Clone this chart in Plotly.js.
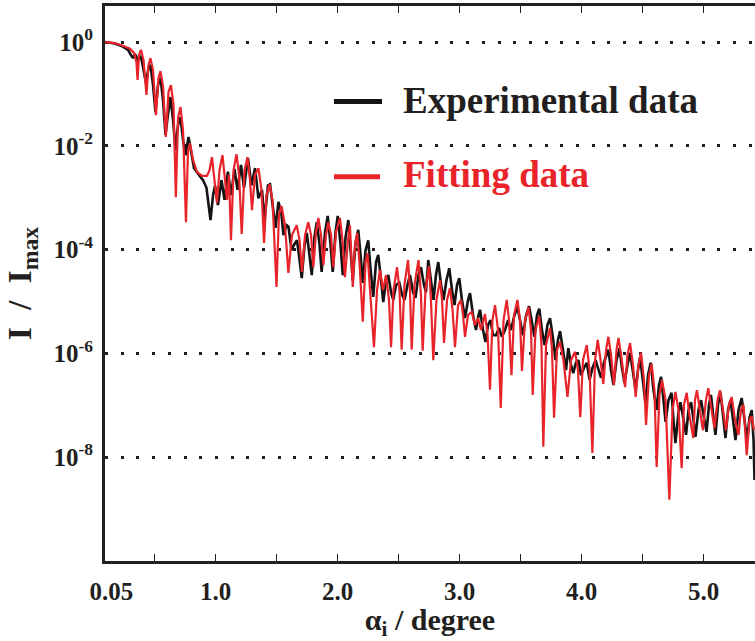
<!DOCTYPE html>
<html>
<head>
<meta charset="utf-8">
<script src="https://cdn.plot.ly/plotly-3.0.1.min.js"></script>
<style>html,body{margin:0;padding:0;background:#fff;}</style>
</head>
<body>
<div id="chart" style="width:755px;height:641px;"></div>
<script>
// Experimental data: incidence angle (degree) and log10(I/Imax)
const expAngle = [
0.094,0.176,0.234,0.283,0.307,0.324,0.34,0.365,0.389,0.414,
0.43,0.451,0.467,0.488,0.508,0.529,0.549,0.57,0.59,0.611,
0.631,0.652,0.672,0.693,0.713,0.734,0.754,0.779,0.799,0.824,
0.857,0.898,0.926,0.943,0.959,0.98,0.996,1.02,1.049,1.074,
1.102,1.127,1.156,1.18,1.209,1.234,1.266,1.295,1.324,1.352,
1.381,1.402,1.43,1.447,1.475,1.492,1.516,1.541,1.557,1.582,
1.598,1.623,1.643,1.668,1.689,1.707,1.73,1.748,1.77,1.789,
1.811,1.83,1.852,1.87,1.898,1.92,1.943,1.961,1.984,2.002,
2.025,2.043,2.066,2.089,2.107,2.125,2.148,2.17,2.189,2.207,
2.23,2.252,2.27,2.293,2.316,2.334,2.357,2.375,2.398,2.416,
2.439,2.457,2.48,2.507,2.529,2.549,2.574,2.594,2.619,2.639,
2.664,2.684,2.709,2.725,2.744,2.766,2.787,2.807,2.826,2.849,
2.869,2.893,2.916,2.939,2.959,2.98,2.998,3.02,3.045,3.07,
3.086,3.111,3.135,3.156,3.168,3.193,3.213,3.234,3.254,3.275,
3.299,3.324,3.348,3.373,3.398,3.422,3.451,3.475,3.5,3.52,
3.547,3.57,3.594,3.615,3.635,3.654,3.676,3.697,3.721,3.742,
3.766,3.787,3.807,3.824,3.848,3.873,3.892,3.914,3.932,3.955,
3.975,3.996,4.02,4.043,4.066,4.09,4.115,4.138,4.16,4.184,
4.22,4.242,4.262,4.287,4.311,4.332,4.352,4.377,4.398,4.422,
4.443,4.463,4.48,4.507,4.525,4.545,4.567,4.59,4.616,4.635,
4.652,4.672,4.689,4.713,4.738,4.754,4.77,4.795,4.811,4.836,
4.857,4.877,4.898,4.918,4.934,4.959,4.98,5.004,5.025,5.045,
5.061,5.082,5.098,5.119,5.139,5.16,5.18,5.201,5.221,5.242,
5.262,5.287,5.313,5.336,5.357,5.377,5.395,5.41,5.418
];
const expLog = [
0,-0.03,-0.08,-0.15,-0.25,-0.31,-0.23,-0.35,-0.27,-0.58,
-0.79,-0.50,-0.44,-0.83,-1.35,-0.83,-0.69,-1.12,-1.79,-1.39,
-1.06,-1.50,-2.08,-1.60,-1.45,-1.89,-2.18,-1.83,-2.08,-2.43,
-2.54,-2.66,-2.81,-3.14,-3.43,-2.95,-2.77,-3.14,-2.66,-3.04,
-2.50,-2.95,-2.45,-2.85,-2.37,-2.81,-2.24,-2.76,-2.43,-3.01,
-2.85,-3.43,-2.76,-2.74,-3.33,-3.58,-3.08,-3.33,-3.72,-3.53,
-3.56,-4.01,-3.91,-3.82,-4.20,-4.55,-3.91,-3.68,-4.10,-4.49,
-3.76,-3.47,-3.89,-4.43,-3.66,-3.35,-3.91,-4.43,-3.66,-3.35,
-3.91,-4.49,-3.76,-3.43,-4.01,-4.59,-3.86,-3.62,-4.10,-4.64,
-4.01,-3.82,-4.35,-4.91,-4.24,-4.10,-4.59,-5.01,-4.59,-4.49,
-4.82,-4.97,-4.68,-4.64,-4.87,-4.97,-4.68,-4.49,-4.82,-4.93,
-4.49,-4.34,-4.68,-4.82,-4.20,-4.59,-4.97,-4.49,-4.24,-4.68,
-4.97,-4.59,-4.36,-4.78,-5.07,-4.68,-4.55,-4.97,-5.32,-4.97,
-4.84,-5.26,-5.55,-5.26,-5.16,-5.55,-5.78,-5.45,-5.36,-5.65,
-5.65,-5.51,-5.68,-5.55,-5.36,-5.55,-5.26,-5.11,-5.40,-5.65,
-5.26,-5.09,-5.40,-5.68,-5.26,-5.14,-5.55,-5.84,-5.45,-5.32,
-5.70,-6.13,-5.74,-5.57,-5.93,-6.32,-5.90,-6.22,-6.38,-6.17,
-6.13,-6.42,-6.28,-6.18,-6.51,-6.28,-6.13,-6.32,-6.47,-6.17,
-5.93,-6.32,-6.61,-6.13,-5.90,-6.28,-6.57,-6.22,-5.99,-6.36,
-6.71,-6.32,-6.07,-6.61,-6.99,-6.42,-6.18,-6.71,-7.09,-6.61,
-6.45,-6.90,-7.32,-6.90,-6.76,-7.28,-7.73,-7.13,-6.94,-7.28,
-7.57,-7.09,-6.94,-7.28,-7.61,-7.09,-6.90,-7.24,-7.51,-6.99,
-6.80,-7.24,-7.57,-6.99,-6.76,-7.19,-7.63,-7.09,-6.90,-7.28,
-7.67,-7.09,-6.86,-7.28,-7.67,-7.24,-7.09,-7.67,-8.44
];

// Fitting data: incidence angle (degree) and log10(I/Imax)
const fitAngle = [
0.094,0.176,0.25,0.299,0.332,0.352,0.361,0.373,0.389,0.41,
0.434,0.451,0.467,0.488,0.512,0.533,0.549,0.57,0.593,0.615,
0.635,0.656,0.675,0.693,0.713,0.734,0.758,0.775,0.791,0.816,
0.848,0.889,0.93,0.951,0.971,0.992,1.012,1.033,1.057,1.078,
1.094,1.111,1.127,1.148,1.172,1.193,1.215,1.238,1.262,1.283,
1.299,1.324,1.352,1.377,1.398,1.418,1.443,1.467,1.5,1.52,
1.541,1.57,1.597,1.627,1.666,1.689,1.709,1.734,1.761,1.783,
1.802,1.824,1.843,1.865,1.884,1.906,1.925,1.947,1.966,1.988,
2.02,2.041,2.061,2.086,2.102,2.125,2.143,2.162,2.184,2.207,
2.23,2.246,2.266,2.299,2.324,2.348,2.373,2.398,2.422,2.439,
2.459,2.488,2.508,2.526,2.549,2.578,2.594,2.608,2.631,2.664,
2.684,2.698,2.721,2.75,2.766,2.785,2.811,2.84,2.857,2.873,
2.898,2.922,2.943,2.963,2.988,3.012,3.029,3.045,3.07,3.1,
3.127,3.152,3.176,3.209,3.23,3.25,3.27,3.291,3.316,3.338,
3.361,3.387,3.406,3.426,3.447,3.475,3.496,3.512,3.537,3.566,
3.586,3.6,3.623,3.654,3.672,3.687,3.709,3.742,3.758,3.775,
3.799,3.824,3.852,3.885,3.914,3.947,3.971,3.99,4.012,4.043,
4.066,4.089,4.111,4.133,4.156,4.179,4.201,4.22,4.242,4.266,
4.287,4.303,4.328,4.357,4.377,4.398,4.422,4.444,4.467,4.488,
4.512,4.529,4.553,4.575,4.598,4.616,4.639,4.66,4.689,4.72,
4.746,4.77,4.795,4.821,4.84,4.862,4.885,4.916,4.93,4.946,
4.97,4.995,5.02,5.039,5.066,5.09,5.115,5.135,5.16,5.184,
5.209,5.231,5.258,5.287,5.307,5.328,5.354,5.377,5.395,5.414
];
const fitLog = [
0,-0.02,-0.08,-0.13,-0.21,-0.39,-0.73,-0.25,-0.15,-0.35,
-1.02,-0.44,-0.31,-0.54,-1.41,-0.69,-0.56,-0.85,-1.83,-0.96,
-0.83,-1.21,-2.99,-1.46,-1.25,-1.70,-3.47,-2.08,-1.95,-2.27,
-2.50,-2.58,-2.58,-2.47,-2.22,-2.66,-3.10,-2.47,-2.18,-2.66,
-3.04,-2.56,-3.82,-2.47,-2.16,-2.56,-3.70,-2.47,-2.22,-2.66,
-3.24,-2.56,-2.43,-2.85,-3.87,-2.95,-2.74,-3.04,-4.72,-3.33,
-3.16,-3.53,-4.45,-3.72,-3.53,-3.82,-4.43,-3.72,-3.47,-3.72,
-4.34,-3.66,-3.39,-3.72,-4.30,-3.72,-3.47,-3.72,-4.34,-3.66,
-3.39,-3.82,-4.53,-3.82,-3.53,-4.72,-3.91,-3.68,-4.39,-5.39,
-4.24,-4.07,-4.78,-5.88,-4.78,-4.39,-4.78,-4.49,-4.97,-5.88,
-4.78,-4.34,-4.78,-5.93,-4.68,-4.20,-4.78,-5.93,-4.68,-4.20,
-4.87,-5.95,-4.78,-4.32,-4.97,-6.13,-4.97,-4.59,-4.97,-5.80,
-4.97,-4.74,-5.16,-5.88,-5.07,-4.97,-5.26,-5.68,-5.26,-5.20,
-5.45,-5.32,-5.55,-5.24,-5.65,-6.70,-5.36,-5.07,-5.55,-7.05,
-5.36,-4.97,-5.36,-6.42,-5.26,-4.97,-5.36,-6.34,-5.36,-5.11,
-5.55,-6.80,-5.55,-5.28,-5.84,-7.80,-5.84,-5.51,-5.93,-7.24,
-5.93,-5.78,-6.13,-6.84,-6.13,-5.97,-6.32,-7.23,-6.13,-5.84,
-6.32,-7.92,-6.13,-5.74,-6.13,-6.59,-5.93,-5.68,-6.03,-6.61,
-5.93,-5.70,-6.09,-6.65,-6.03,-5.80,-6.22,-6.84,-6.22,-5.99,
-6.51,-7.38,-6.42,-6.20,-6.71,-8.19,-6.80,-6.51,-6.90,-8.82,
-7.09,-6.74,-7.09,-8.21,-6.99,-6.76,-7.19,-7.63,-6.90,-6.71,
-7.09,-7.48,-6.90,-6.67,-7.09,-7.44,-6.90,-6.71,-7.09,-7.48,
-6.99,-6.84,-7.28,-7.57,-7.09,-6.99,-7.96,-7.28,-7.21,-7.48
];

const seriesNames = ['Experimental data', 'Fitting data'];
const xTickVals = [0.0945, 1, 2, 3, 4, 5];
const xTickText = ['\u00a0\u00a00.05', '1.0', '2.0', '3.0', '4.0', '5.0'];
const xMinorVals = [0.5, 1.5, 2.5, 3.5, 4.5];
const yTickVals = [1, 1e-2, 1e-4, 1e-6, 1e-8];
const yTickText = ['10<sup>0</sup>', '10<sup>-2</sup>', '10<sup>-4</sup>', '10<sup>-6</sup>', '10<sup>-8</sup>'];

const INK = '#231f20';
const RED = '#e8242a';
const FONT = 'Liberation Serif';

const toI = arr => arr.map(v => Math.pow(10, v));

const traces = [
  {x: expAngle, y: toI(expLog), type: 'scatter', mode: 'lines', name: seriesNames[0],
   line: {color: '#141414', width: 2.6}},
  {x: fitAngle, y: toI(fitLog), type: 'scatter', mode: 'lines', name: seriesNames[1],
   line: {color: RED, width: 2.2}}
];

const layout = {
  width: 755, height: 641,
  margin: {l: 105, r: 0, t: 6, b: 80, pad: 0},
  paper_bgcolor: '#fff', plot_bgcolor: '#fff',
  showlegend: false,
  font: {family: FONT, color: INK, size: 16},
  xaxis: {
    range: [0.0943, 5.422],
    tickmode: 'array', tickvals: xTickVals, ticktext: xTickText,
    ticks: 'inside', ticklen: 7, tickwidth: 1.5, tickcolor: INK,
    minor: {tickmode: 'array', tickvals: xMinorVals, ticks: 'inside', ticklen: 7, tickwidth: 1.5, tickcolor: INK, showgrid: false},
    showline: true, linewidth: 3, linecolor: INK, mirror: 'ticks',
    showgrid: false, zeroline: false,
    tickfont: {family: FONT, size: 25, weight: 'bold', color: INK},
    ticklabelstandoff: 6,
    title: {text: '\u03b1<sub>i</sub> / degree', font: {family: FONT, size: 30, weight: 'bold', color: INK}, standoff: 12}
  },
  yaxis: {
    type: 'log', range: [-10, 0.694],
    tickmode: 'array', tickvals: yTickVals, ticktext: yTickText,
    ticks: '', showline: true, linewidth: 3, linecolor: INK,
    showgrid: true, gridcolor: INK, gridwidth: 3, griddash: '3px,12.7px',
    zeroline: false,
    tickfont: {family: FONT, size: 25, weight: 'bold', color: INK},
    ticklabelstandoff: 4,
    title: {text: 'I\u00a0\u00a0/\u00a0\u00a0I<sub>max</sub>', font: {family: FONT, size: 34, weight: 'bold', color: INK}, standoff: 12}
  },
  shapes: [
    {type: 'line', xref: 'paper', yref: 'paper', x0: 0.3523, x1: 0.4262, y0: 0.828, y1: 0.828,
     line: {color: '#141414', width: 5}},
    {type: 'line', xref: 'paper', yref: 'paper', x0: 0.3523, x1: 0.4231, y0: 0.6925, y1: 0.6925,
     line: {color: RED, width: 5}}
  ],
  annotations: [
    {xref: 'paper', yref: 'paper', x: 0.455, y: 0.8306, xanchor: 'left', yanchor: 'middle',
     text: seriesNames[0], showarrow: false,
     font: {family: FONT, size: 37, weight: 'bold', color: INK}},
    {xref: 'paper', yref: 'paper', x: 0.455, y: 0.6955, xanchor: 'left', yanchor: 'middle',
     text: seriesNames[1], showarrow: false,
     font: {family: FONT, size: 37, weight: 'bold', color: RED}}
  ]
};

Plotly.newPlot('chart', traces, layout, {displayModeBar: false, staticPlot: true});
</script>
</body>
</html>
